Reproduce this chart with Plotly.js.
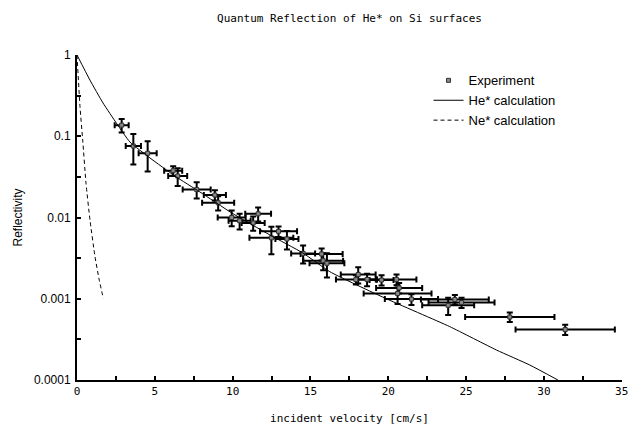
<!DOCTYPE html>
<html>
<head>
<meta charset="utf-8">
<script src="https://cdn.plot.ly/plotly-3.0.1.min.js"></script>
<style>
html,body{margin:0;padding:0;background:#fff;}
#chart{width:628px;height:425px;}
</style>
</head>
<body>
<div id="chart"></div>
<script>
// Experimental data: incident velocity [cm/s], reflectivity, and error bars
var vel = [2.87,3.62,4.54,6.18,6.47,7.69,8.86,9.07,9.94,10.45,11.32,11.64,12.49,12.95,13.49,14.53,15.72,15.82,16.06,18.07,17.92,18.64,19.57,20.53,20.7,20.6,21.49,23.85,24.28,24.71,27.81,31.37];
var velErr = [0.45,0.49,0.58,0.58,0.61,0.90,0.71,1.03,0.90,0.71,0.74,0.83,1.41,1.19,0.74,0.77,1.35,1.28,1.12,1.12,1.28,0.64,0.77,1.28,1.48,2.18,1.71,1.67,2.18,2.12,2.87,3.19];
var refl = [0.137,0.0759,0.0617,0.0377,0.0324,0.0221,0.0189,0.0152,0.0100,0.00914,0.00856,0.0111,0.00562,0.00676,0.00544,0.00361,0.00356,0.00294,0.00273,0.00199,0.00172,0.00173,0.00170,0.00173,0.00136,0.00116,0.00099,0.00083,0.00098,0.00090,0.000596,0.000418];
var reflErr = [0.026,0.031,0.025,0.005,0.008,0.005,0.0027,0.003,0.0022,0.002,0.0017,0.0022,0.0021,0.001,0.0014,0.0009,0.0006,0.0007,0.0009,0.00045,0.00022,0.0003,0.00024,0.00026,0.0002,0.0003,0.00015,0.0002,0.00013,0.00013,0.00008,0.00006];

// He* calculation curve
var heVel = [0,0.83,1.67,2.57,3.40,4.69,6.29,7.90,9.95,12.39,14.51,16.25,19.78,23.95,26.95,29.09,30.9];
var heRefl = [1,0.492,0.257,0.1416,0.085,0.054,0.0324,0.0206,0.01135,0.0061,0.00366,0.00215,0.00102,0.000454,0.000234,0.000153,0.0001];

// Ne* calculation curve
var neVel = [0,0.193,0.366,0.578,0.835,1.156,1.43,1.69];
var neRefl = [1,0.231,0.0899,0.0264,0.0093,0.0033,0.0017,0.00101];

// Axis tick labels
var yTickVals = [1,0.1,0.01,0.001,0.0001];
var yTickText = ['1','0.1','0.01','0.001','0.0001'];
var xTickVals = [0,5,10,15,20,25,30,35];
var xTickText = ['0','5','10','15','20','25','30','35'];

var sans = 'Liberation Sans, Arial, sans-serif';
var mono = 'DejaVu Sans Mono, monospace';
var expMarker = {symbol: 'square', size: 4, color: '#8a8a8a', line: {color: '#333', width: 1}};

var traces = [
  {
    x: [null], y: [null], type: 'scatter', mode: 'markers', name: 'Experiment',
    marker: expMarker, hoverinfo: 'skip'
  },
  {
    x: vel, y: refl, type: 'scatter', mode: 'markers', name: 'Experiment', showlegend: false,
    marker: expMarker,
    error_x: {type: 'data', array: velErr, color: '#000', thickness: 2, width: 3},
    error_y: {type: 'data', array: reflErr, color: '#000', thickness: 2, width: 3}
  },
  {
    x: heVel, y: heRefl, type: 'scatter', mode: 'lines', name: 'He* calculation',
    line: {color: '#000', width: 1, shape: 'spline', smoothing: 0.5}
  },
  {
    x: neVel, y: neRefl, type: 'scatter', mode: 'lines', name: 'Ne* calculation',
    line: {color: '#000', width: 1, dash: '4px,3px', shape: 'spline', smoothing: 0.5}
  }
];

var layout = {
  width: 628, height: 425,
  margin: {l: 77, r: 6, t: 55, b: 45, pad: 0},
  paper_bgcolor: '#fff', plot_bgcolor: '#fff',
  showlegend: true,
  title: {
    text: 'Quantum Reflection of He* on Si surfaces',
    font: {family: mono, size: 11, color: '#000'},
    x: 0.5, xref: 'paper', xanchor: 'center',
    y: 0.958, yref: 'container', yanchor: 'middle'
  },
  legend: {
    x: 0.645, y: 0.968, xanchor: 'left', yanchor: 'top',
    bgcolor: 'rgba(0,0,0,0)', borderwidth: 0,
    font: {family: sans, size: 13, color: '#000'},
    tracegroupgap: 0
  },
  xaxis: {
    type: 'linear', range: [0, 35.02], autorange: false,
    tickvals: xTickVals, ticktext: xTickText, ticklabeloverflow: 'allow',
    ticks: 'inside', ticklen: 4, tickwidth: 2, tickcolor: '#000',
    minor: {dtick: 2.5, ticks: 'inside', ticklen: 4, tickwidth: 2, tickcolor: '#000'},
    showline: true, linecolor: '#000', linewidth: 2, mirror: false,
    showgrid: false, zeroline: false,
    tickfont: {family: mono, size: 11, color: '#000'},
    title: {text: 'incident velocity [cm/s]', font: {family: mono, size: 11, color: '#000'}, standoff: 18}
  },
  yaxis: {
    type: 'log', range: [-4, 0], autorange: false,
    tickvals: yTickVals, ticktext: yTickText,
    ticks: 'inside', ticklen: 4, tickwidth: 2, tickcolor: '#000',
    minor: {dtick: 0.5, ticks: 'inside', ticklen: 4, tickwidth: 2, tickcolor: '#000'},
    showline: true, linecolor: '#000', linewidth: 2, mirror: false,
    showgrid: false, zeroline: false,
    ticklabelstandoff: 2,
    tickfont: {family: sans, size: 12, color: '#000'},
    title: {text: 'Reflectivity', font: {family: sans, size: 12, color: '#000'}, standoff: 9}
  }
};

Plotly.newPlot('chart', traces, layout, {displayModeBar: false, staticPlot: true});
</script>
</body>
</html>
